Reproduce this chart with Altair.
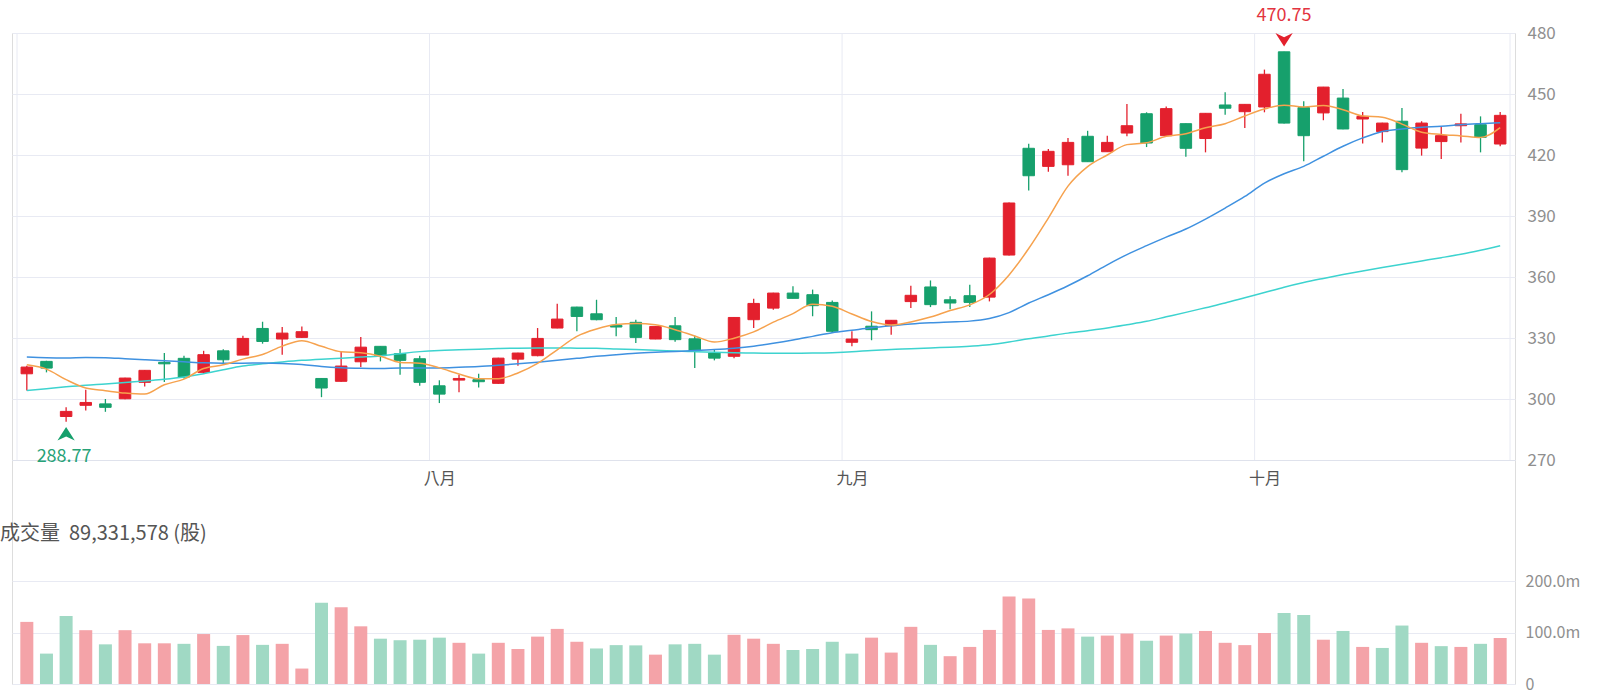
import altair as alt
import pandas as pd

# ---------------- data ----------------
opens = [312.4, 318.5, 291.4, 296.9, 297.6, 300.1, 308.2, 318.0, 320.0, 313.1,
         323.7, 321.6, 334.7, 329.5, 330.3, 310.1, 308.7, 318.3, 325.9, 322.3,
         319.8, 306.5, 309.3, 309.5, 307.7, 319.6, 321.3, 334.9, 345.2, 341.9,
         336.2, 337.7, 329.5, 336.0, 329.6, 322.6, 321.0, 339.0, 344.7, 352.1,
         351.3, 347.5, 327.9, 335.8, 336.1, 347.9, 355.1, 348.8, 350.8, 350.1,
         370.8, 423.3, 414.4, 415.2, 429.2, 421.6, 430.8, 440.3, 429.5, 435.4,
         428.1, 444.6, 441.3, 443.6, 470.75, 443.3, 440.7, 448.0, 437.7, 431.5,
         436.6, 423.4, 426.6, 434.4, 434.9, 425.4]
closes = [315.7, 315.2, 293.9, 298.3, 295.9, 310.3, 314.1, 317.3, 310.8, 321.8,
          319.3, 329.8, 328.3, 332.4, 333.1, 305.4, 316.2, 325.5, 321.3, 319.0,
          308.2, 302.4, 310.1, 308.5, 320.1, 322.6, 329.8, 339.3, 340.6, 339.0,
          335.4, 330.3, 335.7, 329.2, 323.7, 320.1, 340.1, 347.0, 352.1, 349.5,
          345.9, 333.3, 329.5, 334.1, 338.7, 351.0, 346.4, 347.2, 347.5, 369.3,
          396.4, 409.8, 421.8, 426.2, 416.7, 426.2, 434.4, 425.9, 442.8, 423.3,
          440.5, 443.0, 444.9, 459.7, 435.7, 429.5, 453.4, 432.8, 439.0, 435.7,
          412.8, 435.7, 429.5, 435.3, 428.7, 439.5]
highs = [316.3, 318.8, 296.0, 304.5, 300.0, 310.5, 314.3, 322.6, 321.3, 323.7,
         324.5, 331.1, 338.0, 335.4, 335.7, 310.3, 323.4, 330.5, 326.0, 324.6,
         321.3, 309.2, 311.9, 312.4, 320.3, 322.8, 334.9, 346.9, 345.4, 348.8,
         340.3, 339.0, 335.8, 340.3, 331.1, 324.6, 340.3, 349.3, 352.3, 355.4,
         353.8, 348.5, 333.3, 343.1, 338.8, 355.7, 358.3, 350.5, 356.2, 369.5,
         396.6, 425.5, 422.9, 428.3, 431.9, 429.5, 445.1, 441.0, 443.9, 435.5,
         440.6, 450.8, 445.0, 462.0, 470.75, 446.4, 453.5, 452.5, 441.2, 435.8,
         443.1, 436.6, 434.1, 440.3, 439.0, 441.2]
lows = [304.2, 313.1, 288.77, 294.4, 293.7, 299.9, 306.2, 308.3, 310.1, 312.8,
        317.3, 321.6, 327.2, 321.8, 330.0, 300.9, 308.5, 315.7, 318.5, 311.9,
        306.5, 298.0, 303.3, 305.7, 307.5, 316.4, 321.0, 334.8, 333.3, 338.7,
        330.8, 327.5, 329.4, 328.2, 315.2, 319.0, 320.0, 334.9, 343.9, 349.5,
        340.7, 332.4, 325.9, 328.9, 331.6, 344.7, 345.2, 344.2, 345.2, 348.0,
        370.6, 402.6, 411.8, 409.8, 416.7, 421.6, 429.2, 423.9, 429.5, 419.2,
        421.3, 439.8, 433.3, 441.0, 435.5, 416.9, 437.1, 432.7, 425.6, 426.2,
        411.5, 419.7, 418.0, 426.2, 421.3, 424.3]
# volume in millions of shares
volumes = [120.6, 59, 132, 104.5, 77, 104.5, 79, 79, 78, 97,
           74, 95, 76, 78, 30, 158, 149, 112, 88, 85,
           86, 90, 80, 59, 80, 68, 92, 107, 82, 69,
           75.5, 75, 57, 77, 78, 57, 95.5, 88, 78, 66,
           68, 82, 59, 90, 61, 111, 76, 54, 72, 105,
           170, 166, 105, 108, 92, 94, 98, 84, 94, 98,
           103, 80, 75.5, 99, 138, 134, 86, 103, 72, 70,
           113.5, 80, 73.5, 72, 78, 89.33]
ma5 = [316.8, 314.7, 309.5, 305.4, 304.1, 302.9, 302.4, 307.0, 309.8, 315.0,
       316.8, 319.6, 321.9, 326.0, 328.7, 325.9, 323.2, 322.7, 321.0, 318.0,
       317.6, 315.3, 312.3, 309.9, 310.0, 312.8, 317.5, 324.2, 330.8, 334.4,
       336.6, 337.1, 336.5, 334.1, 331.0, 328.0, 329.9, 333.0, 337.8, 342.0,
       346.6, 345.6, 341.8, 338.1, 336.4, 337.9, 340.3, 343.5, 346.3, 351.4,
       361.0, 374.0, 389.0, 404.7, 414.3, 420.0, 425.1, 426.0, 429.2, 430.5,
       433.4, 435.4, 439.2, 442.6, 444.5, 443.6, 444.3, 442.3, 439.2, 438.6,
       435.2, 431.2, 430.1, 429.4, 428.6, 433.5]
ma20 = [320.6, 320.3, 320.2, 320.4, 320.3, 319.8, 319.3, 318.8, 318.3, 317.8,
        317.6, 317.6, 317.7, 317.5, 317.0, 316.0, 315.4, 315.1, 315.0, 315.3,
        315.3, 315.3, 315.6, 316.0, 316.6, 317.3, 318.1, 319.0, 320.0, 321.0,
        321.8, 322.5, 323.0, 323.4, 323.8, 324.3, 325.0, 326.0, 327.4, 329.0,
        330.8, 332.6, 333.8, 335.0, 336.0, 336.9, 337.5, 337.9, 338.3, 339.6,
        342.5, 347.2, 351.3, 355.7, 360.6, 366.0, 371.0, 375.4, 379.6, 383.6,
        388.5, 393.9, 399.6, 406.2, 410.8, 414.4, 419.4, 424.3, 428.4, 431.6,
        432.8, 433.6, 434.1, 434.9, 435.4, 435.8]
ma60 = [304.2, 305.1, 306.0, 306.8, 307.4, 308.1, 308.9, 309.7, 310.8, 312.4,
        314.4, 316.2, 317.3, 318.2, 319.0, 319.6, 320.1, 320.6, 321.2, 322.3,
        323.3, 323.9, 324.2, 324.5, 324.8, 325.0, 325.1, 325.1, 325.0, 324.9,
        324.6, 324.3, 324.0, 323.6, 323.3, 323.0, 322.8, 322.6, 322.5, 322.5,
        322.6, 322.8, 323.2, 323.9, 324.4, 324.7, 325.1, 325.5, 326.0, 326.7,
        328.0, 329.6, 331.0, 332.4, 333.6, 334.9, 336.5, 338.2, 340.4, 342.6,
        344.9, 347.2, 349.8, 352.4, 355.0, 357.3, 359.3, 361.2, 363.0, 364.7,
        366.3, 367.9, 369.5, 371.2, 373.2, 375.4]
month_names = ["八月", "九月", "十月"]
month_start_idx = [21, 42, 63]
price_ticks = [270, 300, 330, 360, 390, 420, 450, 480]
volume_ticks = [0, 100, 200]
volume_title = "成交量\u00a0\u00a089,331,578 (股)"

# ---------------- styles ----------------
RED = "#e3202d"
GREEN = "#16a06c"
RED_LIGHT = "#f4a3a8"
GREEN_LIGHT = "#a0d9c4"
ORANGE = "#f6a24e"
BLUE = "#3f91e0"
CYAN = "#3dd3cf"
GRID = "#e8eaf3"
LABEL = "#8f8f8f"
FONT = "Noto Sans CJK TC"

n = len(closes)
idx = list(range(n))
df = pd.DataFrame({
    "idx": idx, "open": opens, "close": closes, "high": highs, "low": lows,
    "vol": volumes, "ma5": ma5, "ma20": ma20, "ma60": ma60,
})
df["dir"] = ["up" if c >= o else "down" for o, c in zip(opens, closes)]
df["vdir"] = ["up" if closes[0] >= opens[0] else "down"] + [
    "up" if closes[i] >= closes[i - 1] else "down" for i in range(1, n)]

# layout of the single plot area (price on top, volume at bottom)
W, H = 1503, 651
price_px_per_unit = 427 / (price_ticks[-1] - price_ticks[0])
price_lo = price_ticks[-1] - H / price_px_per_unit
vol_px_per_unit = 103 / volume_ticks[-1]
vol_hi = H / vol_px_per_unit

xs = alt.Scale(domain=[-0.5, n - 0.5], nice=False, zero=False)
ps = alt.Scale(domain=[price_lo, price_ticks[-1]], nice=False, zero=False)
vs = alt.Scale(domain=[0, vol_hi], nice=False, zero=False)

label_expr = " : ".join(
    f"datum.value == {i} ? '{m}'" for i, m in zip(month_start_idx, month_names)
) + " : ''"
x_axis = alt.Axis(values=month_start_idx, labelExpr=label_expr, grid=False, ticks=False,
                  domain=True, domainColor="#dfe2ec", offset=-(H - 427), labelPadding=10,
                  labelFontSize=16, labelColor="#555555", labelFont=FONT, title=None)


def X(field="idx"):
    return alt.X(f"{field}:Q", scale=xs, axis=x_axis)


dir_scale = alt.Scale(domain=["up", "down"], range=[RED, GREEN])
vdir_scale = alt.Scale(domain=["up", "down"], range=[RED_LIGHT, GREEN_LIGHT])

base = alt.Chart(df)

# price grid + axis
price_grid = alt.Chart(pd.DataFrame({"v": price_ticks})).mark_rule(opacity=0).encode(
    x=X(),
    y=alt.Y("v:Q", scale=ps, axis=alt.Axis(orient="right", values=price_ticks, grid=True,
                                             gridColor=GRID, domain=False, ticks=False,
                                             labelPadding=12, labelFontSize=17, labelColor=LABEL,
                                             labelFont=FONT, title=None)),
).transform_calculate(idx="0")

boundaries = [-0.5] + [m - 0.5 for m in month_start_idx] + [n - 0.5]
vlines = alt.Chart(pd.DataFrame({"b": boundaries, "top": price_ticks[-1], "bottom": price_ticks[0]})).mark_rule(
    color=GRID, strokeWidth=1).encode(
    x=X("b"),
    y=alt.Y("top:Q", scale=ps, axis=None),
    y2="bottom:Q",
)

# volume
vol_bars = base.mark_bar(size=13).encode(
    x=X(),
    y=alt.Y("vol:Q", scale=vs, axis=alt.Axis(orient="right", values=volume_ticks, grid=True,
                                               gridColor=GRID, domain=False, ticks=False,
                                               labelPadding=10, labelFontSize=16, labelColor=LABEL,
                                               labelFont=FONT, title=None,
                                               labelExpr="datum.value == 0 ? '0' : format(datum.value, '.1f') + 'm'")),
    color=alt.Color("vdir:N", scale=vdir_scale, legend=None),
)

vol_title = alt.Chart(pd.DataFrame({"t": [volume_title]})).mark_text(
    align="left", baseline="middle", fontSize=20, font=FONT, color="#555555").encode(
    text="t:N", x=alt.value(-12), y=alt.value(501))

# candles
wicks = base.mark_rule(strokeWidth=1.3).encode(
    x=X(),
    y=alt.Y("low:Q", scale=ps, axis=None),
    y2="high:Q",
    color=alt.Color("dir:N", scale=dir_scale, legend=None),
)
bodies = base.mark_bar(size=11.5, strokeWidth=1).encode(
    x=X(),
    y=alt.Y("open:Q", scale=ps, axis=None),
    y2="close:Q",
    color=alt.Color("dir:N", scale=dir_scale, legend=None),
    stroke=alt.Stroke("dir:N", scale=dir_scale, legend=None),
)


def ma_line(field, color):
    return base.mark_line(color=color, strokeWidth=1.5, interpolate="monotone").encode(
        x=X(), y=alt.Y(f"{field}:Q", scale=ps, axis=None))


# extreme markers
imin = min(range(n), key=lambda i: lows[i])
imax = max(range(n), key=lambda i: highs[i])
mk_min = pd.DataFrame({"idx": [imin], "val": [lows[imin]], "label": [f"{lows[imin]:.2f}"]})
mk_max = pd.DataFrame({"idx": [imax], "val": [highs[imax]], "label": [f"{highs[imax]:.2f}"]})
UP_ARROW = "M0,-0.78L1,0.78L0,0.3L-1,0.78Z"
DOWN_ARROW = "M0,0.78L1,-0.78L0,-0.3L-1,-0.78Z"

min_arrow = alt.Chart(mk_min).mark_point(shape=UP_ARROW, filled=True, size=300, opacity=1,
                                         color=GREEN, yOffset=12).encode(
    x=X(), y=alt.Y("val:Q", scale=ps, axis=None))
min_text = alt.Chart(mk_min).mark_text(dy=35, dx=-2, fontSize=18, font=FONT, color="#27a277").encode(
    x=X(), y=alt.Y("val:Q", scale=ps, axis=None), text="label:N")
max_arrow = alt.Chart(mk_max).mark_point(shape=DOWN_ARROW, filled=True, size=300, opacity=1,
                                         color=RED, yOffset=-12).encode(
    x=X(), y=alt.Y("val:Q", scale=ps, axis=None))
max_text = alt.Chart(mk_max).mark_text(dy=-36, fontSize=18, font=FONT, color="#e33440").encode(
    x=X(), y=alt.Y("val:Q", scale=ps, axis=None), text="label:N")

chart = alt.layer(
    price_grid, vlines, vol_bars, vol_title, wicks, bodies,
    ma_line("ma60", CYAN), ma_line("ma20", BLUE), ma_line("ma5", ORANGE),
    min_arrow, min_text, max_arrow, max_text,
).resolve_scale(
    y="independent", color="independent", stroke="independent"
).properties(
    width=W, height=H,
    autosize=alt.AutoSizeParams(type="none"),
    padding={"left": 12, "top": 33, "right": 85, "bottom": 16},
).configure_view(stroke=None).configure(background="white")

chart.save("out.html", embed_options={"renderer": "svg", "actions": False})
